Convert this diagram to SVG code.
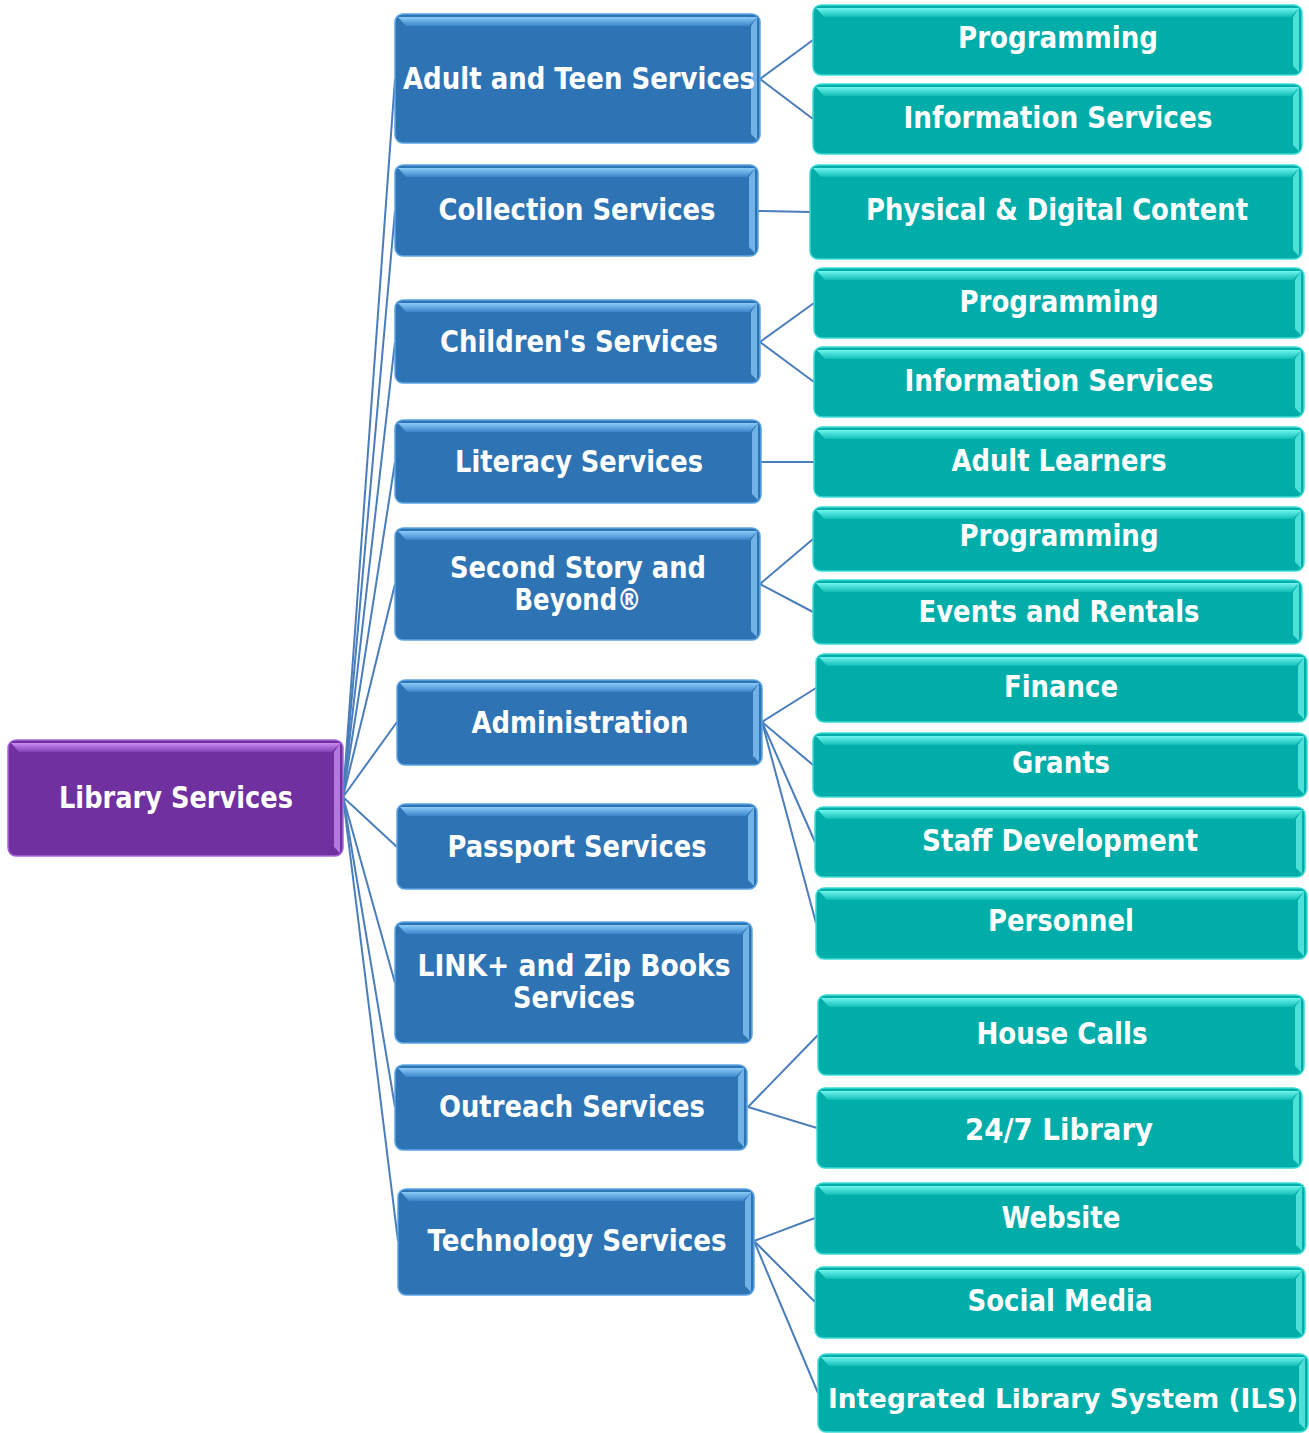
<svg xmlns="http://www.w3.org/2000/svg" width="1309" height="1433" viewBox="0 0 1309 1433">
<defs>
<linearGradient id="gBlue" x1="0" y1="0" x2="0" y2="1"><stop offset="0" stop-color="#8CCBF7"/><stop offset="1" stop-color="#3A86CC"/></linearGradient>
<linearGradient id="gTeal" x1="0" y1="0" x2="0" y2="1"><stop offset="0" stop-color="#6FF5EE"/><stop offset="1" stop-color="#10BDB6"/></linearGradient>
<linearGradient id="gPurple" x1="0" y1="0" x2="0" y2="1"><stop offset="0" stop-color="#C98CF2"/><stop offset="1" stop-color="#8240B5"/></linearGradient>
<style>
.blue{fill:#2E74B5;stroke:#5AA4E6;stroke-width:1.5}
.teal{fill:#00ADA8;stroke:#3BDCD5;stroke-width:1.5}
.purple{fill:#7030A0;stroke:#A868DA;stroke-width:1.5}
.btop{fill:url(#gBlue)}
.ttop{fill:url(#gTeal)}
.ptop{fill:url(#gPurple)}
.bside{fill:#7DBDF0;opacity:.85}
.tside{fill:#5BE8E1;opacity:.85}
.pside{fill:#BE86EA;opacity:.85}
.lbl{font-family:"DejaVu Sans",Verdana,sans-serif;font-weight:bold;font-size:30px;fill:#FFFFFF;text-anchor:middle}
.small{font-size:27px}
.conn line{stroke:#4A7EBB;stroke-width:2;fill:none}
</style>
</defs>
<rect width="1309" height="1433" fill="#FFFFFF"/>
<g class="conn" id="connectors">
<line x1="343" y1="797" x2="395" y2="79"/>
<line x1="343" y1="797" x2="395" y2="211"/>
<line x1="343" y1="797" x2="395" y2="342"/>
<line x1="343" y1="797" x2="395" y2="462"/>
<line x1="343" y1="797" x2="395" y2="584"/>
<line x1="343" y1="797" x2="397" y2="722"/>
<line x1="343" y1="797" x2="397" y2="847"/>
<line x1="343" y1="797" x2="395" y2="983"/>
<line x1="343" y1="797" x2="395" y2="1107"/>
<line x1="343" y1="797" x2="398" y2="1241"/>
<line x1="760" y1="79" x2="813" y2="40"/>
<line x1="760" y1="79" x2="813" y2="119"/>
<line x1="758" y1="211" x2="810" y2="212"/>
<line x1="760" y1="342" x2="814" y2="303"/>
<line x1="760" y1="342" x2="814" y2="382"/>
<line x1="761" y1="462" x2="814" y2="462"/>
<line x1="760" y1="584" x2="813" y2="539"/>
<line x1="760" y1="584" x2="813" y2="612"/>
<line x1="762" y1="722" x2="816" y2="688"/>
<line x1="762" y1="722" x2="813" y2="765"/>
<line x1="762" y1="722" x2="815" y2="842"/>
<line x1="762" y1="722" x2="816" y2="923"/>
<line x1="748" y1="1107" x2="818" y2="1035"/>
<line x1="748" y1="1107" x2="817" y2="1128"/>
<line x1="754" y1="1241" x2="815" y2="1218"/>
<line x1="754" y1="1241" x2="815" y2="1302"/>
<line x1="754" y1="1241" x2="818" y2="1393"/>
</g>

<g id="root" transform="translate(8,740)">
<rect class="purple" width="335" height="116" rx="8"/>
<path class="ptop" d="M3,3H332L324,12H11Z"/>
<path class="pside" d="M332,3V113L326,107V12Z"/>
<text class="lbl" x="168" y="68" textLength="234" lengthAdjust="spacingAndGlyphs">Library Services</text>
</g>

<g id="adult-teen" transform="translate(395,14)">
<rect class="blue" width="365" height="129" rx="8"/>
<path class="btop" d="M3,3H362L354,12H11Z"/>
<path class="bside" d="M362,3V126L356,120V12Z"/>
<text class="lbl" x="184" y="75" textLength="352" lengthAdjust="spacingAndGlyphs">Adult and Teen Services</text>
</g>

<g id="collection" transform="translate(395,165)">
<rect class="blue" width="363" height="91" rx="8"/>
<path class="btop" d="M3,3H360L352,12H11Z"/>
<path class="bside" d="M360,3V88L354,82V12Z"/>
<text class="lbl" x="182" y="55" textLength="277" lengthAdjust="spacingAndGlyphs">Collection Services</text>
</g>

<g id="childrens" transform="translate(395,300)">
<rect class="blue" width="365" height="83" rx="8"/>
<path class="btop" d="M3,3H362L354,12H11Z"/>
<path class="bside" d="M362,3V80L356,74V12Z"/>
<text class="lbl" x="184" y="52" textLength="278" lengthAdjust="spacingAndGlyphs">Children's Services</text>
</g>

<g id="literacy" transform="translate(395,420)">
<rect class="blue" width="366" height="83" rx="8"/>
<path class="btop" d="M3,3H363L355,12H11Z"/>
<path class="bside" d="M363,3V80L357,74V12Z"/>
<text class="lbl" x="184" y="52" textLength="248" lengthAdjust="spacingAndGlyphs">Literacy Services</text>
</g>

<g id="second-story" transform="translate(395,528)">
<rect class="blue" width="365" height="112" rx="8"/>
<path class="btop" d="M3,3H362L354,12H11Z"/>
<path class="bside" d="M362,3V109L356,103V12Z"/>
<text class="lbl" x="183" y="50" textLength="256" lengthAdjust="spacingAndGlyphs">Second Story and</text>
<text class="lbl" x="183" y="82" textLength="127" lengthAdjust="spacingAndGlyphs">Beyond®</text>
</g>

<g id="administration" transform="translate(397,680)">
<rect class="blue" width="365" height="85" rx="8"/>
<path class="btop" d="M3,3H362L354,12H11Z"/>
<path class="bside" d="M362,3V82L356,76V12Z"/>
<text class="lbl" x="183" y="53" textLength="217" lengthAdjust="spacingAndGlyphs">Administration</text>
</g>

<g id="passport" transform="translate(397,804)">
<rect class="blue" width="360" height="85" rx="8"/>
<path class="btop" d="M3,3H357L349,12H11Z"/>
<path class="bside" d="M357,3V82L351,76V12Z"/>
<text class="lbl" x="180" y="53" textLength="259" lengthAdjust="spacingAndGlyphs">Passport Services</text>
</g>

<g id="link-zip" transform="translate(395,922)">
<rect class="blue" width="357" height="121" rx="8"/>
<path class="btop" d="M3,3H354L346,12H11Z"/>
<path class="bside" d="M354,3V118L348,112V12Z"/>
<text class="lbl" x="179" y="54" textLength="313" lengthAdjust="spacingAndGlyphs">LINK+ and Zip Books</text>
<text class="lbl" x="179" y="86" textLength="122" lengthAdjust="spacingAndGlyphs">Services</text>
</g>

<g id="outreach" transform="translate(395,1065)">
<rect class="blue" width="352" height="85" rx="8"/>
<path class="btop" d="M3,3H349L341,12H11Z"/>
<path class="bside" d="M349,3V82L343,76V12Z"/>
<text class="lbl" x="177" y="52" textLength="266" lengthAdjust="spacingAndGlyphs">Outreach Services</text>
</g>

<g id="technology" transform="translate(398,1189)">
<rect class="blue" width="356" height="106" rx="8"/>
<path class="btop" d="M3,3H353L345,12H11Z"/>
<path class="bside" d="M353,3V103L347,97V12Z"/>
<text class="lbl" x="179" y="62" textLength="299" lengthAdjust="spacingAndGlyphs">Technology Services</text>
</g>

<g id="at-programming" transform="translate(813,5)">
<rect class="teal" width="489" height="70" rx="8"/>
<path class="ttop" d="M3,3H486L478,12H11Z"/>
<path class="tside" d="M486,3V67L480,61V12Z"/>
<text class="lbl" x="245" y="43" textLength="200" lengthAdjust="spacingAndGlyphs">Programming</text>
</g>

<g id="at-information" transform="translate(813,84)">
<rect class="teal" width="489" height="70" rx="8"/>
<path class="ttop" d="M3,3H486L478,12H11Z"/>
<path class="tside" d="M486,3V67L480,61V12Z"/>
<text class="lbl" x="245" y="44" textLength="309" lengthAdjust="spacingAndGlyphs">Information Services</text>
</g>

<g id="physical-digital" transform="translate(810,165)">
<rect class="teal" width="492" height="94" rx="8"/>
<path class="ttop" d="M3,3H489L481,12H11Z"/>
<path class="tside" d="M489,3V91L483,85V12Z"/>
<text class="lbl" x="247" y="55" textLength="382" lengthAdjust="spacingAndGlyphs">Physical &amp; Digital Content</text>
</g>

<g id="ch-programming" transform="translate(814,268)">
<rect class="teal" width="490" height="70" rx="8"/>
<path class="ttop" d="M3,3H487L479,12H11Z"/>
<path class="tside" d="M487,3V67L481,61V12Z"/>
<text class="lbl" x="245" y="44" textLength="199" lengthAdjust="spacingAndGlyphs">Programming</text>
</g>

<g id="ch-information" transform="translate(814,347)">
<rect class="teal" width="490" height="70" rx="8"/>
<path class="ttop" d="M3,3H487L479,12H11Z"/>
<path class="tside" d="M487,3V67L481,61V12Z"/>
<text class="lbl" x="245" y="44" textLength="309" lengthAdjust="spacingAndGlyphs">Information Services</text>
</g>

<g id="adult-learners" transform="translate(814,427)">
<rect class="teal" width="490" height="70" rx="8"/>
<path class="ttop" d="M3,3H487L479,12H11Z"/>
<path class="tside" d="M487,3V67L481,61V12Z"/>
<text class="lbl" x="245" y="44" textLength="215" lengthAdjust="spacingAndGlyphs">Adult Learners</text>
</g>

<g id="ss-programming" transform="translate(813,507)">
<rect class="teal" width="491" height="64" rx="8"/>
<path class="ttop" d="M3,3H488L480,12H11Z"/>
<path class="tside" d="M488,3V61L482,55V12Z"/>
<text class="lbl" x="246" y="39" textLength="199" lengthAdjust="spacingAndGlyphs">Programming</text>
</g>

<g id="events-rentals" transform="translate(813,580)">
<rect class="teal" width="489" height="64" rx="8"/>
<path class="ttop" d="M3,3H486L478,12H11Z"/>
<path class="tside" d="M486,3V61L480,55V12Z"/>
<text class="lbl" x="246" y="42" textLength="281" lengthAdjust="spacingAndGlyphs">Events and Rentals</text>
</g>

<g id="finance" transform="translate(816,654)">
<rect class="teal" width="491" height="68" rx="8"/>
<path class="ttop" d="M3,3H488L480,12H11Z"/>
<path class="tside" d="M488,3V65L482,59V12Z"/>
<text class="lbl" x="245" y="43" textLength="114" lengthAdjust="spacingAndGlyphs">Finance</text>
</g>

<g id="grants" transform="translate(813,733)">
<rect class="teal" width="494" height="64" rx="8"/>
<path class="ttop" d="M3,3H491L483,12H11Z"/>
<path class="tside" d="M491,3V61L485,55V12Z"/>
<text class="lbl" x="248" y="40" textLength="98" lengthAdjust="spacingAndGlyphs">Grants</text>
</g>

<g id="staff-development" transform="translate(815,807)">
<rect class="teal" width="490" height="70" rx="8"/>
<path class="ttop" d="M3,3H487L479,12H11Z"/>
<path class="tside" d="M487,3V67L481,61V12Z"/>
<text class="lbl" x="245" y="44" textLength="276" lengthAdjust="spacingAndGlyphs">Staff Development</text>
</g>

<g id="personnel" transform="translate(816,888)">
<rect class="teal" width="491" height="71" rx="8"/>
<path class="ttop" d="M3,3H488L480,12H11Z"/>
<path class="tside" d="M488,3V68L482,62V12Z"/>
<text class="lbl" x="245" y="43" textLength="146" lengthAdjust="spacingAndGlyphs">Personnel</text>
</g>

<g id="house-calls" transform="translate(818,995)">
<rect class="teal" width="486" height="80" rx="8"/>
<path class="ttop" d="M3,3H483L475,12H11Z"/>
<path class="tside" d="M483,3V77L477,71V12Z"/>
<text class="lbl" x="244" y="49" textLength="171" lengthAdjust="spacingAndGlyphs">House Calls</text>
</g>

<g id="library-24-7" transform="translate(817,1088)">
<rect class="teal" width="485" height="80" rx="8"/>
<path class="ttop" d="M3,3H482L474,12H11Z"/>
<path class="tside" d="M482,3V77L476,71V12Z"/>
<text class="lbl" x="242" y="52" textLength="188" lengthAdjust="spacingAndGlyphs">24/7 Library</text>
</g>

<g id="website" transform="translate(815,1183)">
<rect class="teal" width="490" height="71" rx="8"/>
<path class="ttop" d="M3,3H487L479,12H11Z"/>
<path class="tside" d="M487,3V68L481,62V12Z"/>
<text class="lbl" x="246" y="45" textLength="119" lengthAdjust="spacingAndGlyphs">Website</text>
</g>

<g id="social-media" transform="translate(815,1267)">
<rect class="teal" width="490" height="71" rx="8"/>
<path class="ttop" d="M3,3H487L479,12H11Z"/>
<path class="tside" d="M487,3V68L481,62V12Z"/>
<text class="lbl" x="245" y="44" textLength="185" lengthAdjust="spacingAndGlyphs">Social Media</text>
</g>

<g id="ils" transform="translate(818,1354)">
<rect class="teal" width="490" height="78" rx="8"/>
<path class="ttop" d="M3,3H487L479,12H11Z"/>
<path class="tside" d="M487,3V75L481,69V12Z"/>
<text class="lbl small" x="245" y="54" textLength="470" lengthAdjust="spacingAndGlyphs">Integrated Library System (ILS)</text>
</g>
</svg>
